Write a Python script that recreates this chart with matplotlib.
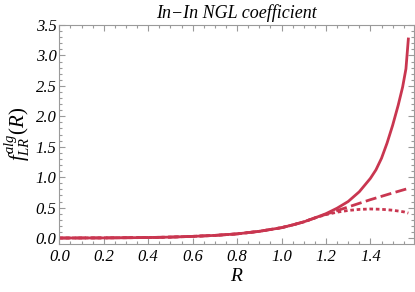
import matplotlib
matplotlib.use("Agg")
import matplotlib.pyplot as plt
from matplotlib.ticker import MultipleLocator

# ---- data ----
R_solid = [0.0, 0.2, 0.4, 0.5, 0.6, 0.7, 0.8, 0.9, 1.0, 1.05, 1.1, 1.15, 1.2, 1.25, 1.3,
           1.35, 1.4, 1.425, 1.45, 1.475, 1.5, 1.525, 1.545, 1.56, 1.5708]
f_solid = [0.0, 0.002, 0.008, 0.015, 0.027, 0.043, 0.068, 0.11, 0.17, 0.215, 0.265, 0.33,
           0.40, 0.49, 0.60, 0.76, 0.98, 1.12, 1.31, 1.56, 1.85, 2.18, 2.48, 2.78, 3.27]

R_dashed = [0.0, 0.2, 0.4, 0.5, 0.6, 0.7, 0.8, 0.9, 1.0, 1.05, 1.1, 1.15, 1.2, 1.25, 1.3,
            1.35, 1.4, 1.45, 1.5, 1.5708]
f_dashed = [0.0, 0.002, 0.008, 0.015, 0.027, 0.043, 0.068, 0.11, 0.17, 0.215, 0.265, 0.33,
            0.39, 0.45, 0.51, 0.57, 0.63, 0.685, 0.74, 0.815]

R_dotted = [0.0, 0.2, 0.4, 0.5, 0.6, 0.7, 0.8, 0.9, 1.0, 1.05, 1.1, 1.15, 1.2, 1.25, 1.3,
            1.35, 1.4, 1.45, 1.5, 1.55, 1.5708]
f_dotted = [0.0, 0.002, 0.008, 0.015, 0.027, 0.043, 0.068, 0.11, 0.17, 0.215, 0.265, 0.33,
            0.385, 0.425, 0.453, 0.470, 0.477, 0.472, 0.457, 0.43, 0.41]

title_text = "In\u2212In NGL coefficient"
xlabel_text = "R"
ylabel_text = r"$f_{LR}^{alg}(R)$"

color = "#C93650"
axis_gray = "#9a9a9a"

plt.rcParams["mathtext.fontset"] = "custom"
plt.rcParams["mathtext.it"] = "Liberation Serif:italic"
plt.rcParams["mathtext.rm"] = "Liberation Serif"

fig = plt.figure(figsize=(4.15, 2.92), dpi=100)
ax = fig.add_axes([59.3 / 415, 1 - 243.5 / 292, (413.5 - 59.3) / 415, (243.5 - 25) / 292])

ax.plot(R_dotted, f_dotted, color=color, lw=2.0, linestyle=(0, (1.3, 1.0)), dash_capstyle="butt")
ax.plot(R_dashed, f_dashed, color=color, lw=2.0, linestyle=(0, (4.0, 1.6)), dash_capstyle="butt")
ax.plot(R_solid, f_solid, color=color, lw=2.0, solid_joinstyle="round")

ax.set_xlim(0, 1.594)
ax.set_ylim(-0.09, 3.5)

ax.xaxis.set_major_locator(MultipleLocator(0.2))
ax.xaxis.set_minor_locator(MultipleLocator(0.05))
ax.yaxis.set_major_locator(MultipleLocator(0.5))
ax.yaxis.set_minor_locator(MultipleLocator(0.1))

ax.tick_params(which="both", direction="in", top=True, right=True, color=axis_gray, width=0.8)
ax.tick_params(which="major", length=4.5)
ax.tick_params(which="minor", length=2.5)
ax.tick_params(axis="x", which="major", pad=4)
ax.tick_params(axis="y", which="major", pad=2)

for sp in ax.spines.values():
    sp.set_color(axis_gray)
    sp.set_linewidth(0.8)

tick_font = dict(family="Liberation Serif", style="italic", size=12)
xt = [0.0, 0.2, 0.4, 0.6, 0.8, 1.0, 1.2, 1.4]
yt = [0.0, 0.5, 1.0, 1.5, 2.0, 2.5, 3.0, 3.5]
ax.set_xticks(xt)
ax.set_xticklabels([f"{v:.1f}" for v in xt], **tick_font)
ax.set_yticks(yt)
ax.set_yticklabels([f"{v:.1f}" for v in yt], **tick_font)

ax.set_title(title_text, family="Liberation Serif", style="italic", size=13, pad=5)
ax.set_xlabel(xlabel_text, family="Liberation Serif", style="italic", size=14, labelpad=2)
ax.set_ylabel(ylabel_text, size=15, labelpad=2)

fig.savefig("out.png", dpi=100)
